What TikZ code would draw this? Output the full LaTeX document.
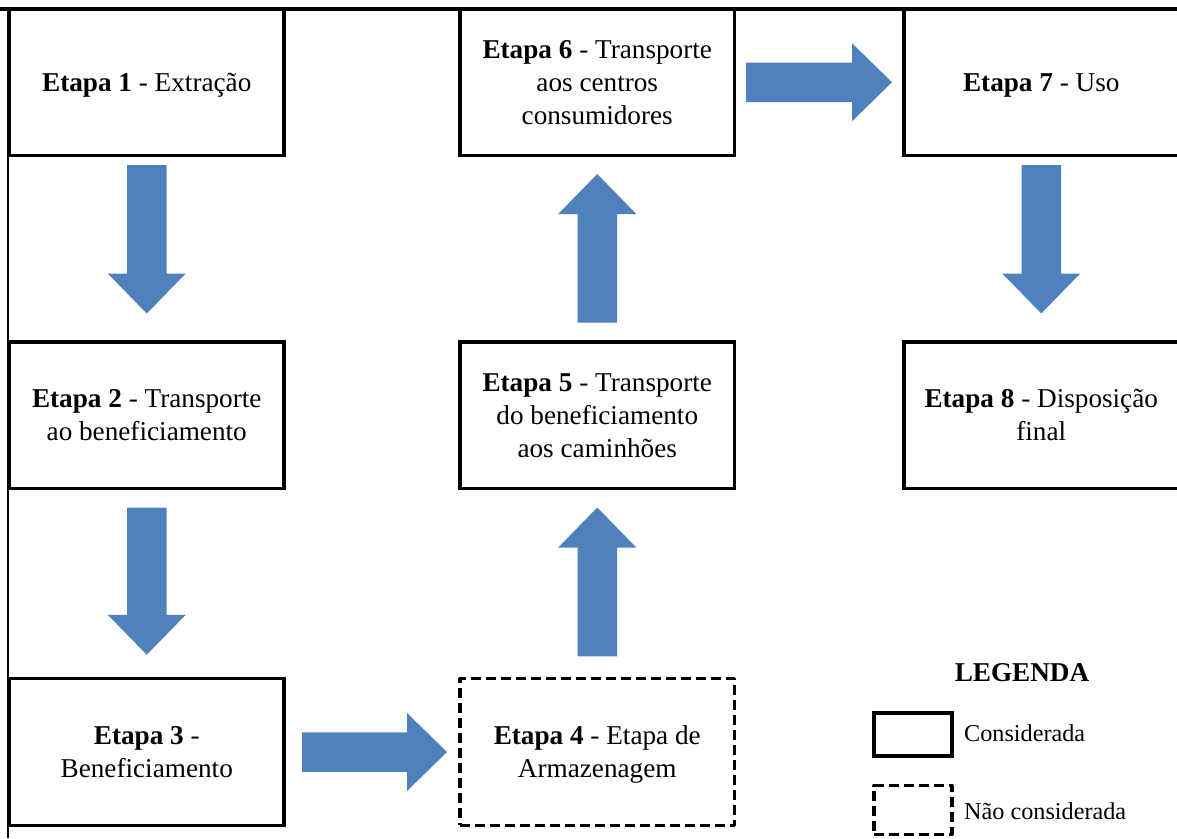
\documentclass[tikz,border=0pt]{standalone}
\usepackage{fontspec}
\setmainfont{Liberation Serif}
\usetikzlibrary{calc}
\definecolor{flowblue}{HTML}{4F81BD}
\tikzset{
  stage/.style={draw=black, line width=3.2pt, minimum width=274.5pt,
    minimum height=146.5pt, inner sep=0pt, outer sep=0pt, align=center,
    text depth=-3.5pt, font=\fontsize{27.2pt}{33pt}\selectfont},
  skipped/.style={stage, dash pattern=on 10pt off 5pt, line join=round},
  keybox/.style={draw=black, line width=3.2pt, minimum width=78pt,
    inner sep=0pt, outer sep=0pt},
  keytext/.style={inner sep=0pt, anchor=west,
    font=\fontsize{24.2pt}{29pt}\selectfont},
  frameline/.style={draw=black},
  blockarrow/.style={fill=flowblue, draw=none},
  % wide block arrow between two anchors, leaving a gap at each end
  flowto/.style 2 args={to path={
    let \p1=($(\tikztostart)!#1!(\tikztotarget)$),
        \p2=($(\tikztotarget)!#2!(\tikztostart)$),
        \n1={atan2(\y2-\y1,\x2-\x1)},
        \n2={veclen(\x2-\x1,\y2-\y1)},
        \n3={cos(\n1)}, \n4={sin(\n1)}
    in ({\x1-19.75*(\n4)},{\y1+19.75*(\n3)})
    -- ({\x1+(\n2-40)*(\n3)-19.75*(\n4)},{\y1+(\n2-40)*(\n4)+19.75*(\n3)})
    -- ({\x1+(\n2-40)*(\n3)-39*(\n4)},{\y1+(\n2-40)*(\n4)+39*(\n3)})
    -- (\p2)
    -- ({\x1+(\n2-40)*(\n3)+39*(\n4)},{\y1+(\n2-40)*(\n4)-39*(\n3)})
    -- ({\x1+(\n2-40)*(\n3)+19.75*(\n4)},{\y1+(\n2-40)*(\n4)-19.75*(\n3)})
    -- ({\x1+19.75*(\n4)},{\y1-19.75*(\n3)})
    -- cycle}},
}
\begin{document}
\begin{tikzpicture}[x=1pt,y=-1pt]
\useasboundingbox (0,0) rectangle (1177,838);

% outer frame
\draw[frameline, line width=4pt] (0,8.5) -- (1177,8.5);
\draw[frameline, line width=2.5pt] (8,8.5) -- (8,838);

% stages
\node[stage] (s1) at (146.75,82.25) {\textbf{Etapa 1} - Extração};
\node[stage] (s2) at (146.75,415.25) {\textbf{Etapa 2} - Transporte\\ao beneficiamento};
\node[stage] (s3) at (146.75,752) {\textbf{Etapa 3} -\\Beneficiamento};
\node[skipped] (s4) at (597.25,752) {\textbf{Etapa 4} - Etapa de\\Armazenagem};
\node[stage] (s5) at (597.25,415.25) {\textbf{Etapa 5} - Transporte\\do beneficiamento\\aos caminhões};
\node[stage] (s6) at (597.25,82.25) {\textbf{Etapa 6} - Transporte\\aos centros\\consumidores};
\node[stage] (s7) at (1041.25,82.25) {\textbf{Etapa 7} - Uso};
\node[stage] (s8) at (1041.25,415.25) {\textbf{Etapa 8} - Disposição\\final};

% flow between stages
\path[blockarrow] (s1.south) to[flowto={9.5pt}{28.5pt}] (s2.north);
\path[blockarrow] (s2.south) to[flowto={19pt}{24pt}] (s3.north);
\path[blockarrow] (s3.east) to[flowto={18pt}{13pt}] (s4.west);
\path[blockarrow] (s4.north) to[flowto={22.5pt}{19pt}] (s5.south);
\path[blockarrow] (s5.north) to[flowto={19.5pt}{18.5pt}] (s6.south);
\path[blockarrow] (s6.east) to[flowto={11.5pt}{12pt}] (s7.west);
\path[blockarrow] (s7.south) to[flowto={9.5pt}{28.5pt}] (s8.north);

% legend
\node[font=\bfseries\fontsize{27.2pt}{33pt}\selectfont] (lgtitle) at (1022,673) {LEGENDA};
\node[keybox, minimum height=43pt] (lg1) at (913,734.5) {};
\node[keybox, minimum height=48.5pt, dash pattern=on 10pt off 5pt, line join=round] (lg2) at (913,810) {};
\node[keytext] (lt1) at (964,733) {Considerada};
\node[keytext] (lt2) at (964,811) {Não considerada};
\end{tikzpicture}
\end{document}
